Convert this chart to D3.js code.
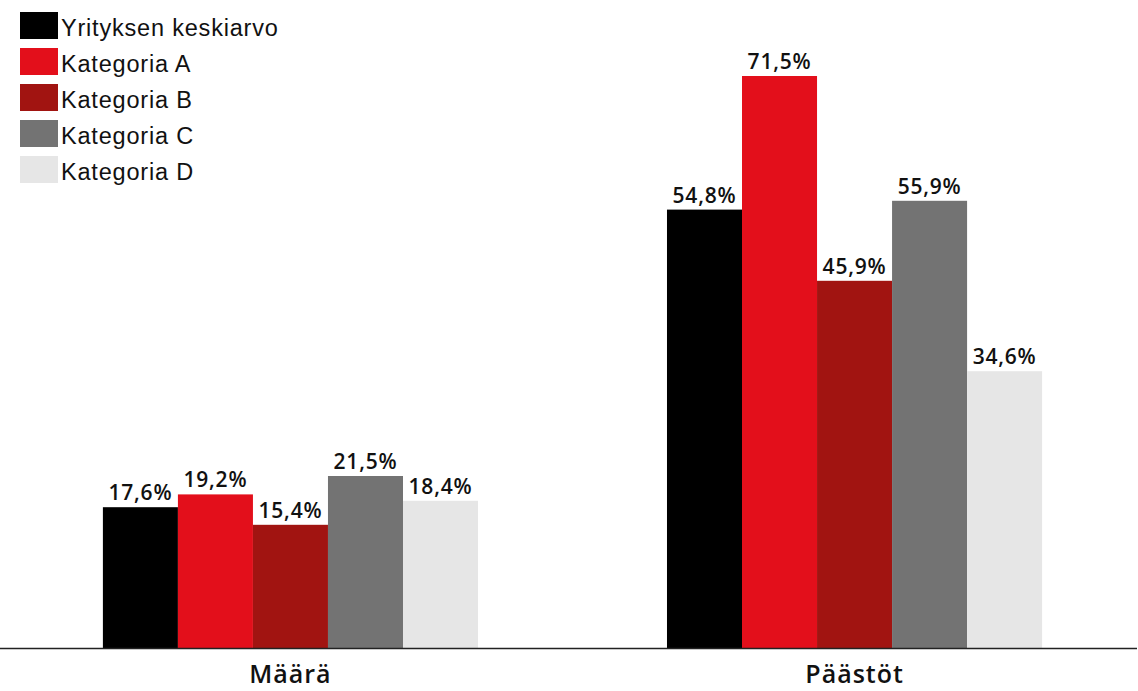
<!DOCTYPE html>
<html>
<head>
<meta charset="utf-8">
<script src="https://cdn.jsdelivr.net/npm/d3@7"></script>
<style>
  body { margin: 0; background: #fff; }
  svg { display: block; font-family: "Liberation Sans", Arial, sans-serif; }
</style>
</head>
<body>
<div id="chart"></div>
<script>
var categories = ["Määrä", "Päästöt"];
var seriesNames = ["Yrityksen keskiarvo", "Kategoria A", "Kategoria B", "Kategoria C", "Kategoria D"];
var seriesColors = ["#000000", "#e30f1b", "#a11411", "#737373", "#e6e6e6"];
var maaraValues = [17.6, 19.2, 15.4, 21.5, 18.4];
var paastotValues = [54.8, 71.5, 45.9, 55.9, 34.6];

var width = 1138;
var height = 691;
var baseline = 648;

var svg = d3.select("#chart")
  .append("svg")
  .attr("width", width)
  .attr("height", height);

var x0 = d3.scaleBand()
  .domain(categories)
  .range([7, 1138])
  .paddingInner(0.335)
  .paddingOuter(0.17);

var x1 = d3.scaleBand()
  .domain(seriesNames)
  .range([0, x0.bandwidth()]);

var y = d3.scaleLinear()
  .domain([0, 80])
  .range([baseline, 8]);

var rows = [
  { cat: "Määrä", values: maaraValues },
  { cat: "Päästöt", values: paastotValues }
];

var groups = svg.selectAll("g.group")
  .data(rows)
  .enter().append("g")
  .attr("class", "group")
  .attr("transform", function(d) { return "translate(" + x0(d.cat) + ",0)"; });

var bars = groups.selectAll("g.bar")
  .data(function(d) {
    return d.values.map(function(v, i) { return { name: seriesNames[i], value: v, color: seriesColors[i] }; });
  })
  .enter().append("g")
  .attr("class", "bar");

bars.append("rect")
  .attr("x", function(d) { return x1(d.name); })
  .attr("y", function(d) { return y(d.value); })
  .attr("width", x1.bandwidth())
  .attr("height", function(d) { return baseline - y(d.value); })
  .style("fill", function(d) { return d.color; });

bars.append("text")
  .attr("x", function(d) { return x1(d.name) + x1.bandwidth() / 2; })
  .attr("y", function(d) { return y(d.value) - 7; })
  .attr("text-anchor", "middle")
  .style("font-family", "'Open Sans', sans-serif")
  .style("font-size", "21px")
  .style("font-weight", "600")
  .style("letter-spacing", "0.8px")
  .style("fill", "#111")
  .text(function(d) { return d.value.toFixed(1).replace(".", ",") + "%"; });

// x axis
var xAxis = d3.axisBottom(x0).tickSize(0).tickPadding(0);
var axisG = svg.append("g")
  .attr("transform", "translate(0," + baseline + ")")
  .call(xAxis);
axisG.select(".domain").remove();
axisG.append("line")
  .attr("x1", 0)
  .attr("x2", 1137)
  .attr("y1", 0.5)
  .attr("y2", 0.5)
  .style("stroke", "#222")
  .style("stroke-width", 1.3);
axisG.selectAll(".tick text")
  .attr("y", 35)
  .attr("dy", 0)
  .style("font-family", "'Open Sans', sans-serif")
  .style("font-size", "25px")
  .style("font-weight", "600")
  .style("letter-spacing", "1px")
  .style("fill", "#111");

// legend
var legend = svg.append("g").attr("class", "legend");
var items = legend.selectAll("g")
  .data(seriesNames)
  .enter().append("g")
  .attr("transform", function(d, i) { return "translate(20," + (12 + i * 36) + ")"; });

items.append("rect")
  .attr("width", 38)
  .attr("height", 27)
  .style("fill", function(d, i) { return seriesColors[i]; });

items.append("text")
  .attr("x", 41)
  .attr("y", 24)
  .style("font-size", "23.5px")
  .style("letter-spacing", "0.8px")
  .style("fill", "#111")
  .text(function(d) { return d; });
</script>
</body>
</html>
